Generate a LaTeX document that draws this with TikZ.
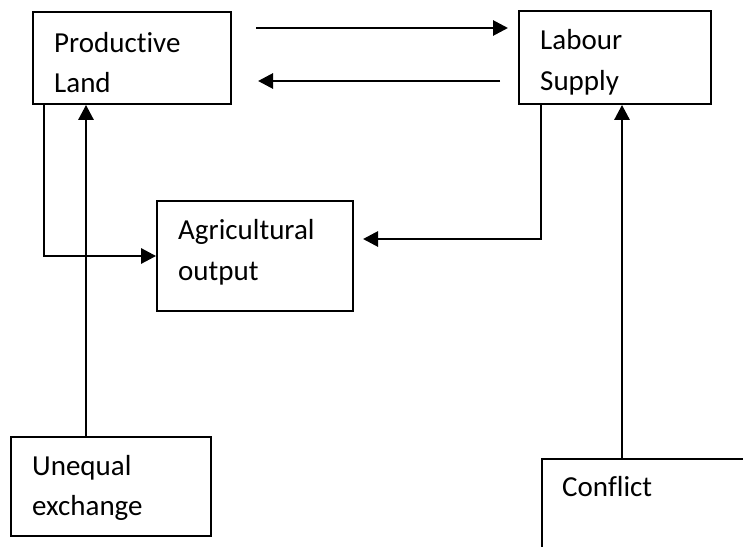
\documentclass[tikz,border=0pt]{standalone}
\usepackage{fontspec}
\setmainfont[Ligatures={NoCommon}]{Carlito}
\usetikzlibrary{arrows.meta,calc}
\begin{document}
\begin{tikzpicture}[x=1pt,y=-1pt,
  box/.style={draw,line width=1.8pt,minimum width=#1,inner sep=0pt},
  txt/.style={anchor=base west,inner sep=0pt,font=\fontsize{29}{35}\selectfont},
  arr/.style={line width=2.8pt,-{Triangle[length=15pt,width=15pt]}}]
\useasboundingbox (0,0) rectangle (743,546);
% boxes
\node[box=198pt,minimum height=92pt] (pl) at (132,58) {};
\node[box=192pt,minimum height=93pt] (ls) at (615,57.5) {};
\node[box=196pt,minimum height=110pt] (ag) at (255,256) {};
\node[box=200pt,minimum height=99pt] (ue) at (111,486.5) {};
\node[box=260pt,minimum height=140pt,anchor=north west] (cf) at (541,458) {};
% texts
\node[txt] (pl1) at (54,52) {Productive};
\node[txt] (pl2) at (54,92) {Land};
\node[txt] (ls1) at (540,49) {Labour};
\node[txt] (ls2) at (540,90) {Supply};
\node[txt] (ag1) at (178,239) {Agricultural};
\node[txt] (ag2) at (178,280) {output};
\node[txt] (ue1) at (32,475) {Unequal};
\node[txt] (ue2) at (32,515) {exchange};
\node[txt] (cf1) at (562,496) {Conflict};
% helper coordinates
\coordinate (a1s) at (256,28);
\coordinate (a1e) at (508,28);
\coordinate (a2s) at (500,81);
\coordinate (a2e) at (258,81);
\coordinate (lx) at (44,0);
\coordinate (ux) at (86,0);
\coordinate (cx) at (622,0);
\coordinate (lsx) at (541,239);
\coordinate (age) at (363,239);
% connectors
\draw[arr] (a1s) -- (a1e);
\draw[arr] (a2s) -- (a2e);
\draw[arr] (pl.south -| lx) |- (ag.west);
\draw[arr] (ue.north -| ux) -- (pl.south -| ux);
\draw[arr] (cf.north -| cx) -- (ls.south -| cx);
\draw[arr] (ls.south -| lsx) -- (lsx) -- (age);
\end{tikzpicture}
\end{document}
